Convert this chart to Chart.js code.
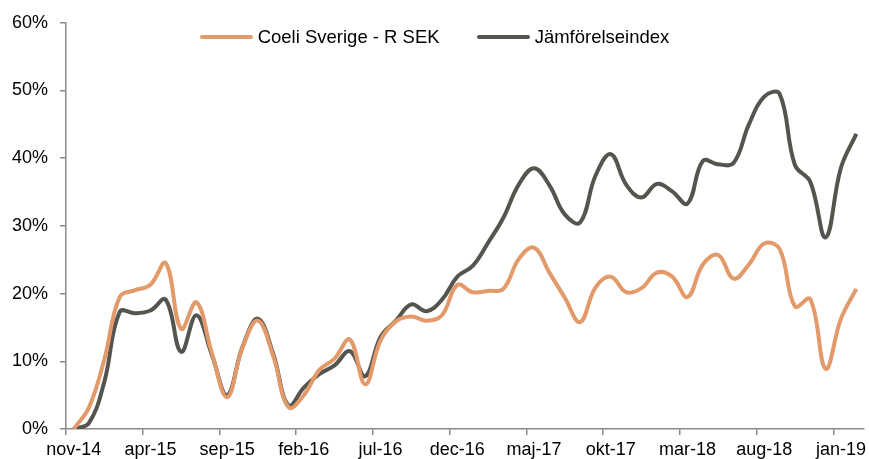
<!DOCTYPE html>
<html lang="sv">
<head>
    <meta charset="UTF-8">
    <title>Coeli Sverige - R SEK vs Jämförelseindex</title>
    <style>
        * {
            margin: 0;
            padding: 0;
            box-sizing: border-box;
        }
        body {
            background: #fff;
            font-family: 'Liberation Sans', Arial, sans-serif;
        }
        .wrap {
            position: relative;
            width: 869px;
            height: 459px;
        }
        .legend {
            position: absolute;
            top: 26px;
            left: 0;
            width: 869px;
            height: 22px;
            display: flex;
            justify-content: center;
            align-items: center;
            gap: 37px;
            font-size: 18.5px;
            color: #000;
            pointer-events: none;
        }
        .legend-item {
            display: flex;
            align-items: center;
        }
        .swatch {
            width: 53px;
            height: 4px;
            border-radius: 2px;
            margin-right: 5px;
        }
    </style>
    <script src="https://cdn.jsdelivr.net/npm/chart.js@4.4.1/dist/chart.umd.min.js"></script>
</head>
<body>
    <div class="wrap">
        <canvas id="chart"></canvas>
        <div class="legend" id="legend"></div>
    </div>

    <script>
        // month categories, nov-14 .. feb-19
        const months = [
            'nov-14', 'dec-14', 'jan-15', 'feb-15', 'mar-15', 'apr-15', 'maj-15', 'jun-15', 'jul-15', 'aug-15',
            'sep-15', 'okt-15', 'nov-15', 'dec-15', 'jan-16', 'feb-16', 'mar-16', 'apr-16', 'maj-16', 'jun-16',
            'jul-16', 'aug-16', 'sep-16', 'okt-16', 'nov-16', 'dec-16', 'jan-17', 'feb-17', 'mar-17', 'apr-17',
            'maj-17', 'jun-17', 'jul-17', 'aug-17', 'sep-17', 'okt-17', 'nov-17', 'dec-17', 'jan-18', 'feb-18',
            'mar-18', 'apr-18', 'maj-18', 'jun-18', 'jul-18', 'aug-18', 'sep-18', 'okt-18', 'nov-18', 'dec-18',
            'jan-19', 'feb-19'
        ];

        // cumulative return in %
        const coeli = [
            0.0, 3.2, 10.3, 19.5, 20.5, 21.3, 24.5, 14.8, 18.7, 11.3,
            4.7, 12.0, 16.0, 10.8, 3.2, 5.0, 8.7, 10.4, 13.2, 6.6,
            13.1, 15.9, 16.6, 16.0, 16.8, 21.3, 20.2, 20.4, 20.7, 25.1,
            26.8, 23.1, 19.4, 15.8, 20.9, 22.5, 20.2, 20.8, 23.1, 22.5,
            19.5, 24.3, 25.7, 22.2, 24.3, 27.4, 26.6, 18.1, 19.2, 8.9,
            16.3, 20.7
        ];
        const benchmark = [
            0.0, 0.9, 7.0, 17.3, 17.1, 17.5, 19.1, 11.4, 16.8, 11.0,
            5.0, 12.1, 16.3, 11.1, 3.5, 6.1, 8.1, 9.4, 11.5, 7.8,
            13.6, 16.0, 18.4, 17.4, 19.1, 22.5, 24.1, 27.5, 31.2, 36.1,
            38.5, 36.0, 31.7, 30.5, 37.4, 40.6, 36.1, 34.2, 36.2, 35.1,
            33.3, 39.6, 39.1, 39.3, 45.0, 49.1, 49.5, 39.0, 36.5, 28.3,
            38.6, 43.6
        ];
        const seriesNames = ['Coeli Sverige - R SEK', 'Jämförelseindex'];
        const yTicks = [0, 10, 20, 30, 40, 50, 60];

        const colors = ['#E39A6B', '#55554F'];
        const axisGray = '#8A8A8A';
        const labelStep = 5;

        // legend drawn as html above the plot
        const legendEl = document.getElementById('legend');
        seriesNames.forEach((name, i) => {
            const item = document.createElement('div');
            item.className = 'legend-item';
            const sw = document.createElement('span');
            sw.className = 'swatch';
            sw.style.background = colors[i];
            const txt = document.createElement('span');
            txt.textContent = name;
            item.appendChild(sw);
            item.appendChild(txt);
            legendEl.appendChild(item);
        });

        const tickFont = { family: "'Liberation Sans', Arial, sans-serif", size: 18 };

        new Chart(document.getElementById('chart'), {
            type: 'line',
            data: {
                labels: months,
                datasets: [
                    {
                        label: seriesNames[0],
                        data: coeli,
                        borderColor: colors[0],
                        backgroundColor: colors[0],
                        borderWidth: 4,
                        pointRadius: 0,
                        tension: 0.4,
                        fill: false
                    },
                    {
                        label: seriesNames[1],
                        data: benchmark,
                        borderColor: colors[1],
                        backgroundColor: colors[1],
                        borderWidth: 4,
                        pointRadius: 0,
                        tension: 0.4,
                        fill: false
                    }
                ]
            },
            options: {
                responsive: true,
                maintainAspectRatio: false,
                animation: false,
                layout: {
                    padding: { left: 0, top: 21, right: 5, bottom: 0 }
                },
                plugins: {
                    legend: { display: false },
                    tooltip: { enabled: false }
                },
                scales: {
                    x: {
                        type: 'category',
                        offset: true,
                        afterFit: (scale) => { scale.height = 30; },
                        grid: {
                            offset: true,
                            drawOnChartArea: false,
                            drawTicks: true,
                            tickLength: 6,
                            lineWidth: 1.5,
                            color: (ctx) => (ctx.index !== undefined && ctx.index % labelStep === 0) ? axisGray : 'rgba(0,0,0,0)'
                        },
                        border: { display: true, color: axisGray, width: 1.5 },
                        ticks: {
                            autoSkip: false,
                            maxRotation: 0,
                            minRotation: 0,
                            padding: 4,
                            color: '#000',
                            font: tickFont,
                            callback: (v, i) => i % labelStep === 0 ? months[i] : ''
                        }
                    },
                    y: {
                        min: yTicks[0],
                        max: yTicks[yTicks.length - 1],
                        afterFit: (scale) => { scale.width = 66; },
                        afterBuildTicks: (scale) => { scale.ticks = yTicks.map(v => ({ value: v })); },
                        grid: {
                            drawOnChartArea: false,
                            drawTicks: true,
                            tickLength: 6,
                            lineWidth: 1.5,
                            color: axisGray
                        },
                        border: { display: true, color: axisGray, width: 1.5 },
                        ticks: {
                            padding: 12,
                            color: '#000',
                            font: tickFont,
                            callback: (v) => v + '%'
                        }
                    }
                }
            }
        });
    </script>
</body>
</html>
